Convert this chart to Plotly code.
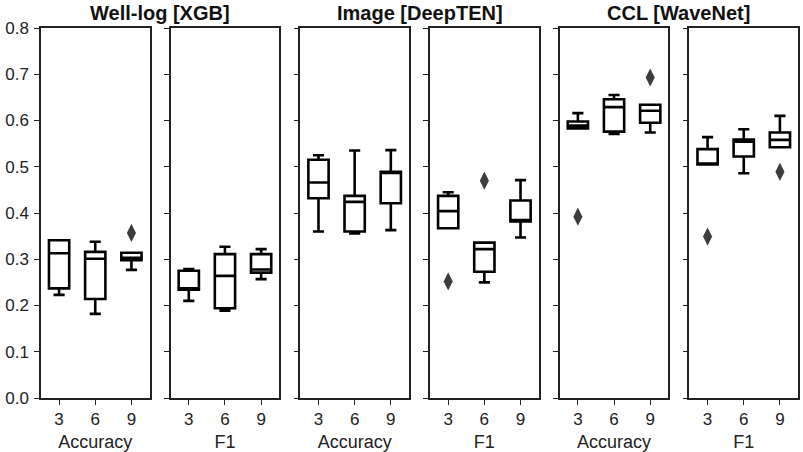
import plotly.graph_objects as go
from plotly.subplots import make_subplots

# box statistics, one list per panel (groups 3, 6, 9)
categories = ["3", "6", "9"]
metric_labels = ["Accuracy", "F1", "Accuracy", "F1", "Accuracy", "F1"]
group_titles = ["Well-log [XGB]", "Image [DeepTEN]", "CCL [WaveNet]"]

lower_whisker = [
    [0.223, 0.182, 0.277],
    [0.210, 0.189, 0.257],
    [0.360, 0.356, 0.363],
    [0.367, 0.250, 0.347],
    [0.583, 0.571, 0.574],
    [0.505, 0.486, 0.542],
]
q1 = [
    [0.237, 0.214, 0.298],
    [0.234, 0.194, 0.271],
    [0.432, 0.360, 0.421],
    [0.367, 0.273, 0.382],
    [0.583, 0.576, 0.595],
    [0.505, 0.522, 0.542],
]
median = [
    [0.313, 0.301, 0.303],
    [0.237, 0.264, 0.278],
    [0.466, 0.424, 0.487],
    [0.404, 0.322, 0.385],
    [0.589, 0.629, 0.621],
    [0.507, 0.554, 0.558],
]
q3 = [
    [0.341, 0.316, 0.314],
    [0.275, 0.311, 0.311],
    [0.515, 0.437, 0.489],
    [0.437, 0.336, 0.427],
    [0.598, 0.646, 0.634],
    [0.538, 0.559, 0.574],
]
upper_whisker = [
    [0.341, 0.338, 0.314],
    [0.279, 0.327, 0.322],
    [0.525, 0.535, 0.536],
    [0.445, 0.336, 0.471],
    [0.616, 0.655, 0.634],
    [0.564, 0.581, 0.610],
]
outlier_x = [["9"], [], [], ["3", "6"], ["3", "9"], ["3", "9"]]
outlier_y = [[0.357], [], [], [0.252, 0.470], [0.392, 0.693], [0.349, 0.489]]

FONT = "Liberation Sans, Arial, sans-serif"

fig = make_subplots(rows=1, cols=6, shared_yaxes=False, horizontal_spacing=0.028)

for i in range(6):
    col = i + 1
    fig.add_trace(go.Box(
        x=categories,
        q1=q1[i], median=median[i], q3=q3[i],
        lowerfence=lower_whisker[i], upperfence=upper_whisker[i],
        boxpoints=False,
        fillcolor="white",
        line=dict(color="black", width=2.6),
        whiskerwidth=0.55,
        showlegend=False,
    ), row=1, col=col)
    if outlier_x[i]:
        fig.add_trace(go.Scatter(
            x=outlier_x[i], y=outlier_y[i], mode="markers",
            marker=dict(symbol="diamond-tall", size=13, color="#3d3d3d"),
            showlegend=False,
        ), row=1, col=col)

    fig.update_xaxes(
        type="category", categoryorder="array", categoryarray=categories,
        range=[-0.5, 2.5],
        showline=True, mirror=True, linecolor="#222", linewidth=1.5,
        ticks="outside", ticklen=5, tickcolor="#222",
        tickfont=dict(size=17, color="#222", family=FONT),
        title=dict(text=metric_labels[i], font=dict(size=18, color="#222", family=FONT), standoff=7),
        showgrid=False, zeroline=False,
        row=1, col=col,
    )
    fig.update_yaxes(
        range=[0, 0.8], dtick=0.1, tickformat=".1f",
        showline=True, mirror=True, linecolor="#222", linewidth=1.5,
        ticks="outside", ticklen=5, tickcolor="#222",
        showticklabels=(i == 0),
        tickfont=dict(size=17, color="#222", family=FONT),
        ticklabelstandoff=2,
        showgrid=False, zeroline=False,
        row=1, col=col,
    )

# group titles centred over each pair of panels
for k, title in enumerate(group_titles):
    left = fig.layout[f"xaxis{2 * k + 1 if k else ''}"].domain[0]
    right = fig.layout[f"xaxis{2 * k + 2}"].domain[1]
    fig.add_annotation(
        text=f"<b>{title}</b>", x=(left + right) / 2, y=1.0,
        xref="paper", yref="paper", xanchor="center", yanchor="bottom",
        yshift=2, showarrow=False,
        font=dict(size=20, color="#111", family=FONT),
    )

fig.update_layout(
    width=803, height=452,
    margin=dict(l=41, r=3, t=28, b=54),
    plot_bgcolor="white", paper_bgcolor="white",
    boxgap=0.2,
)

# drop the page's default body margin so the figure sits at the window corner
fig.write_html("out.html", config={"displayModeBar": False},
               post_script="document.body.style.margin='0';")
